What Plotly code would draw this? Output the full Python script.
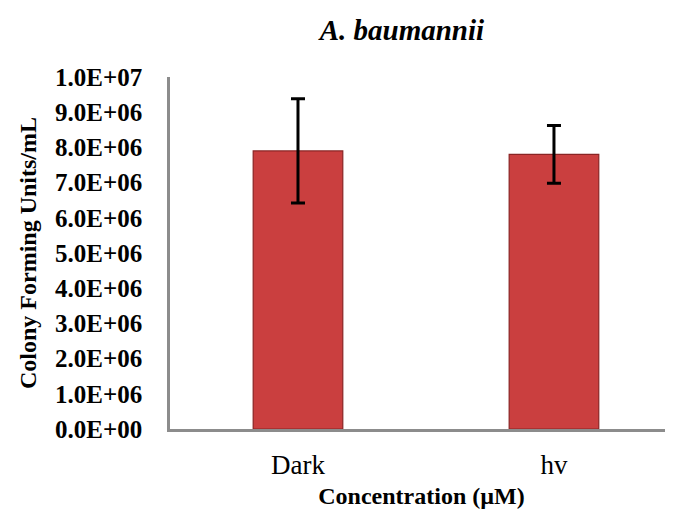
import plotly.graph_objects as go

categories = ["Dark", "hv"]
cfu_values = [7.9e6, 7.8e6]
cfu_errors = [1.48e6, 0.82e6]
y_tick_vals = [i * 1e6 for i in range(11)]
y_tick_text = ["0.0E+00", "1.0E+06", "2.0E+06", "3.0E+06", "4.0E+06", "5.0E+06",
               "6.0E+06", "7.0E+06", "8.0E+06", "9.0E+06", "1.0E+07"]

FONT = "Liberation Serif"
W, H = 665, 503  # page body has an 8px offset
L, R, T, B = 162, 0, 69, 82

fig = go.Figure()
fig.add_trace(go.Bar(
    x=categories, y=cfu_values,
    width=0.35,
    marker=dict(color="#CA3F3F", line=dict(color="#8A2424", width=1.2)),
    error_y=dict(type="data", array=cfu_errors, visible=True,
                 color="black", thickness=3, width=7),
))

fig.update_layout(
    width=W, height=H,
    margin=dict(l=L, r=R, t=T, b=B, autoexpand=False),
    plot_bgcolor="white", paper_bgcolor="white",
    showlegend=False,
    title=dict(text="<b><i>A. baumannii</i></b>", xref="paper", x=0.461, xanchor="center",
               yref="container", y=1 - 22 / H, yanchor="middle",
               font=dict(family=FONT, size=29, color="black")),
    xaxis=dict(range=[-0.5, 1.465], showline=True, linecolor="#8c8c8c", linewidth=2.5,
               showgrid=False, ticks="", ticklabelstandoff=10,
               tickfont=dict(family=FONT, size=27, color="black"),
               title=dict(text="<b>Concentration (µM)</b>", standoff=9,
                          font=dict(family=FONT, size=24, color="black"))),
    yaxis=dict(range=[0, 1e7], showline=True, linecolor="#8c8c8c", linewidth=2.5,
               showgrid=False, zeroline=False, ticks="",
               tickvals=y_tick_vals, ticktext=["<b>" + t + "</b>" for t in y_tick_text],
               ticklabelstandoff=20,
               tickfont=dict(family=FONT, size=25, color="black"),
               title=dict(text="<b>Colony Forming Units/mL</b>", standoff=12,
                          font=dict(family=FONT, size=24, color="black"))),
)

fig.write_html("out.html")
